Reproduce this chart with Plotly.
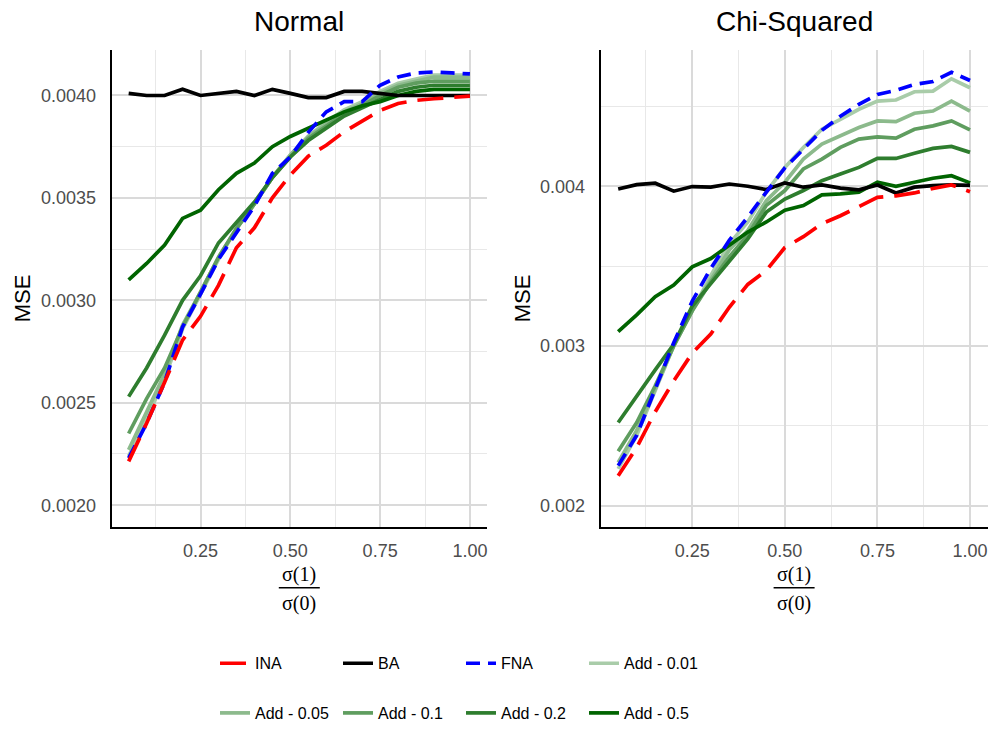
import plotly.graph_objects as go

W, H = 993, 730

x_vals = [0.05, 0.10, 0.15, 0.20, 0.25, 0.30, 0.35, 0.40, 0.45, 0.50,
          0.55, 0.60, 0.65, 0.70, 0.75, 0.80, 0.85, 0.90, 0.95, 1.00]

series_names = ["INA", "BA", "FNA", "Add - 0.01", "Add - 0.05", "Add - 0.1", "Add - 0.2", "Add - 0.5"]

# ---- Normal panel ----
normal_INA = [0.002214, 0.00240, 0.00260, 0.002806, 0.002922, 0.003073, 0.003257, 0.003354, 0.00350, 0.003612,
              0.003704, 0.003757, 0.003823, 0.003874, 0.003927, 0.003961, 0.003976, 0.003984, 0.00399, 0.003997]
normal_BA = [0.00401, 0.00400, 0.00400, 0.00403, 0.00400, 0.00401, 0.00402, 0.00400, 0.00403, 0.00401,
             0.00399, 0.00399, 0.00402, 0.00402, 0.00401, 0.00400, 0.00400, 0.00400, 0.00400, 0.00400]
normal_FNA = [0.00223, 0.00240, 0.00260, 0.00287, 0.00303, 0.00320, 0.00333, 0.00346, 0.00362, 0.00370,
              0.00382, 0.00392, 0.00397, 0.00397, 0.00405, 0.00409, 0.00411, 0.004115, 0.00411, 0.004105]
normal_A001 = [0.00224, 0.00242, 0.00262, 0.00286, 0.00303, 0.00320, 0.00335, 0.00347, 0.00360, 0.00371,
               0.00380, 0.00387, 0.00393, 0.00397, 0.00402, 0.00406, 0.00408, 0.00410, 0.00410, 0.00410]
normal_A005 = [0.00227, 0.00245, 0.00264, 0.00288, 0.00304, 0.00321, 0.00335, 0.00347, 0.00360, 0.00371,
               0.00380, 0.00386, 0.00392, 0.00396, 0.00401, 0.00405, 0.00407, 0.00409, 0.00409, 0.00409]
normal_A01 = [0.00235, 0.00252, 0.00267, 0.00287, 0.00304, 0.00321, 0.00335, 0.00347, 0.00360, 0.00370,
              0.00379, 0.00385, 0.00391, 0.00395, 0.00400, 0.00404, 0.00406, 0.00407, 0.00407, 0.00407]
normal_A02 = [0.00253, 0.00267, 0.00283, 0.00300, 0.00312, 0.00328, 0.00338, 0.00348, 0.00360, 0.00370,
              0.00378, 0.00384, 0.00390, 0.00394, 0.00398, 0.00402, 0.00404, 0.00405, 0.00405, 0.00405]
normal_A05 = [0.00310, 0.00318, 0.00327, 0.00340, 0.00344, 0.00354, 0.00362, 0.00367, 0.00375, 0.00380,
              0.00384, 0.00388, 0.00392, 0.00395, 0.00397, 0.00400, 0.00402, 0.00403, 0.00403, 0.00403]

# ---- Chi-Squared panel ----
chisq_INA = [0.002187, 0.002364, 0.002587, 0.002781, 0.002955, 0.003074, 0.003242, 0.003385, 0.003472, 0.003616,
             0.003684, 0.003765, 0.003815, 0.003871, 0.00393, 0.00394, 0.003958, 0.003986, 0.004008, 0.003966]
chisq_BA = [0.003983, 0.00401, 0.004019, 0.003969, 0.003998, 0.003994, 0.004014, 0.004, 0.003979, 0.004021,
            0.003994, 0.004008, 0.003988, 0.003977, 0.004008, 0.003958, 0.003994, 0.004004, 0.004008, 0.004005]
chisq_FNA = [0.00225, 0.00244, 0.00273, 0.00302, 0.00328, 0.003485, 0.003661, 0.003807, 0.003963, 0.004115,
             0.004232, 0.00435, 0.004438, 0.004513, 0.004575, 0.0046, 0.004637, 0.004656, 0.004714, 0.004662]
chisq_A001 = [0.00223, 0.00244, 0.00272, 0.00300, 0.00322, 0.00344, 0.00364, 0.003776, 0.003963, 0.004118,
              0.004243, 0.004357, 0.004419, 0.004482, 0.004533, 0.00454, 0.004592, 0.004596, 0.004673, 0.004617]
chisq_A005 = [0.00227, 0.00247, 0.00273, 0.00300, 0.00323, 0.00342, 0.00360, 0.003723, 0.00391, 0.004025,
              0.00417, 0.004264, 0.004315, 0.004368, 0.004409, 0.004405, 0.004457, 0.004471, 0.004533, 0.004471]
chisq_A01 = [0.00234, 0.00252, 0.00275, 0.00300, 0.00322, 0.00340, 0.003558, 0.003695, 0.00388, 0.003973,
             0.004108, 0.00417, 0.004243, 0.004295, 0.004309, 0.004301, 0.004357, 0.004378, 0.004409, 0.004353]
chisq_A02 = [0.00252, 0.00269, 0.00285, 0.00301, 0.00325, 0.00339, 0.003526, 0.00367, 0.003838, 0.00392,
             0.003973, 0.004035, 0.004077, 0.004118, 0.004174, 0.004174, 0.004207, 0.004237, 0.004249, 0.004212]
chisq_A05 = [0.00309, 0.003194, 0.003308, 0.003381, 0.003495, 0.003547, 0.00363, 0.003713, 0.003776, 0.00385,
             0.003879, 0.003946, 0.003952, 0.003963, 0.004025, 0.004, 0.004025, 0.00405, 0.004066, 0.004021]

panel_titles = ["Normal", "Chi-Squared"]
x_tick_vals = [0.25, 0.50, 0.75, 1.00]
x_tick_text = ["0.25", "0.50", "0.75", "1.00"]
normal_y_ticks = [0.0020, 0.0025, 0.0030, 0.0035, 0.0040]
normal_y_text = ["0.0020", "0.0025", "0.0030", "0.0035", "0.0040"]
chisq_y_ticks = [0.002, 0.003, 0.004]
chisq_y_text = ["0.002", "0.003", "0.004"]

normal = dict(zip(series_names, [normal_INA, normal_BA, normal_FNA, normal_A001,
                                 normal_A005, normal_A01, normal_A02, normal_A05]))
chisq = dict(zip(series_names, [chisq_INA, chisq_BA, chisq_FNA, chisq_A001,
                                chisq_A005, chisq_A01, chisq_A02, chisq_A05]))

styles = {
    "INA": dict(color="#ff0000", dash="26px,11px"),
    "BA": dict(color="#000000", dash="solid"),
    "FNA": dict(color="#0000ff", dash="14px,8px"),
    "Add - 0.01": dict(color="#a9cca9", dash="solid"),
    "Add - 0.05": dict(color="#8cba8c", dash="solid"),
    "Add - 0.1": dict(color="#5f9d5f", dash="solid"),
    "Add - 0.2": dict(color="#2e7d2e", dash="solid"),
    "Add - 0.5": dict(color="#006400", dash="solid"),
}
legend_of = {"INA": "legend", "BA": "legend", "FNA": "legend", "Add - 0.01": "legend",
             "Add - 0.05": "legend2", "Add - 0.1": "legend2", "Add - 0.2": "legend2", "Add - 0.5": "legend2"}

draw_order = sorted(series_names)  # alphabetical, as ggplot draws factor levels

fig = go.Figure()
for panel_idx, data in enumerate([normal, chisq]):
    xa = "x" if panel_idx == 0 else "x2"
    ya = "y" if panel_idx == 0 else "y2"
    for name in draw_order:
        st = styles[name]
        fig.add_trace(go.Scatter(
            x=x_vals, y=data[name], mode="lines", name=name,
            line=dict(color=st["color"], dash=st["dash"], width=3.7),
            xaxis=xa, yaxis=ya,
            showlegend=(panel_idx == 0),
            legend=legend_of[name],
            legendrank=series_names.index(name) + 1,
        ))

tick_font = dict(family="Liberation Sans, Arial, sans-serif", size=18, color="#4d4d4d")
grid_major = "#dadada"
grid_minor = "#e8e8e8"

def xaxis_cfg(domain, anchor):
    return dict(
        domain=domain, anchor=anchor, range=[0.0025, 1.0475],
        tickvals=x_tick_vals, ticktext=x_tick_text, tickfont=tick_font,
        showgrid=True, gridcolor=grid_major, gridwidth=1.7,
        minor=dict(tickvals=[0.125, 0.375, 0.625, 0.875], showgrid=True,
                   gridcolor=grid_minor, gridwidth=1.3, ticks=""),
        showline=True, linecolor="black", linewidth=2, zeroline=False,
        ticks="", ticklabelstandoff=6,
    )

def yaxis_cfg(domain, anchor, rng, tv, tt, minor_vals):
    return dict(
        domain=domain, anchor=anchor, range=rng,
        tickvals=tv, ticktext=tt, tickfont=tick_font,
        showgrid=True, gridcolor=grid_major, gridwidth=1.7,
        minor=dict(tickvals=minor_vals, showgrid=True,
                   gridcolor=grid_minor, gridwidth=1.3, ticks=""),
        showline=True, linecolor="black", linewidth=2, zeroline=False,
        ticks="", ticklabelstandoff=10,
    )

x1_dom = [111.6 / W, 487.0 / W]
x2_dom = [600.6 / W, 987.6 / W]
y_dom = [1 - 530 / H, 1 - 50 / H]

legend_common = dict(orientation="h", xanchor="left", yanchor="middle",
                     entrywidth=78, entrywidthmode="pixels", traceorder="normal",
                     font=dict(size=16, color="black"), bgcolor="rgba(0,0,0,0)")

fig.update_layout(
    width=W, height=H,
    margin=dict(l=0, r=0, t=0, b=0),
    paper_bgcolor="white", plot_bgcolor="white",
    font=dict(family="Liberation Sans, Arial, sans-serif", color="black"),
    xaxis=xaxis_cfg(x1_dom, "y"),
    xaxis2=xaxis_cfg(x2_dom, "y2"),
    yaxis=yaxis_cfg(y_dom, "x", [0.0018932, 0.0042233], normal_y_ticks, normal_y_text,
                    [0.00225, 0.00275, 0.00325, 0.00375]),
    yaxis2=yaxis_cfg(y_dom, "x2", [0.001865, 0.004855], chisq_y_ticks, chisq_y_text,
                     [0.0025, 0.0035, 0.0045]),
    legend=dict(x=215 / W, y=1 - 667 / H, **legend_common),
    legend2=dict(x=215 / W, y=1 - 717 / H, **legend_common),
)

annotations = []
shapes = []
centers = [(x1_dom[0] + x1_dom[1]) / 2, (x2_dom[0] + x2_dom[1]) / 2]
for i, cx in enumerate(centers):
    annotations.append(dict(text=panel_titles[i], x=cx, y=1 - 22 / H, xref="paper", yref="paper",
                            showarrow=False, font=dict(size=28, color="black"),
                            xanchor="center", yanchor="middle"))
    annotations.append(dict(text="σ(1)", x=cx, y=1 - 578 / H, xref="paper", yref="paper",
                            showarrow=False, font=dict(family="Liberation Serif, DejaVu Serif, serif",
                                                       size=20, color="black"),
                            xanchor="center", yanchor="middle"))
    annotations.append(dict(text="σ(0)", x=cx, y=1 - 607 / H, xref="paper", yref="paper",
                            showarrow=False, font=dict(family="Liberation Serif, DejaVu Serif, serif",
                                                       size=20, color="black"),
                            xanchor="center", yanchor="middle"))
    shapes.append(dict(type="line", xref="paper", yref="paper",
                       x0=cx - 20.5 / W, x1=cx + 20.5 / W, y0=1 - 591 / H, y1=1 - 591 / H,
                       line=dict(color="black", width=1.3)))

for xpx in [22, 522]:
    annotations.append(dict(text="MSE", x=xpx / W, y=1 - 300 / H, xref="paper", yref="paper",
                            showarrow=False, textangle=-90, font=dict(size=22, color="black"),
                            xanchor="center", yanchor="middle"))

fig.update_layout(annotations=annotations, shapes=shapes)

fig.write_html("out.html")
